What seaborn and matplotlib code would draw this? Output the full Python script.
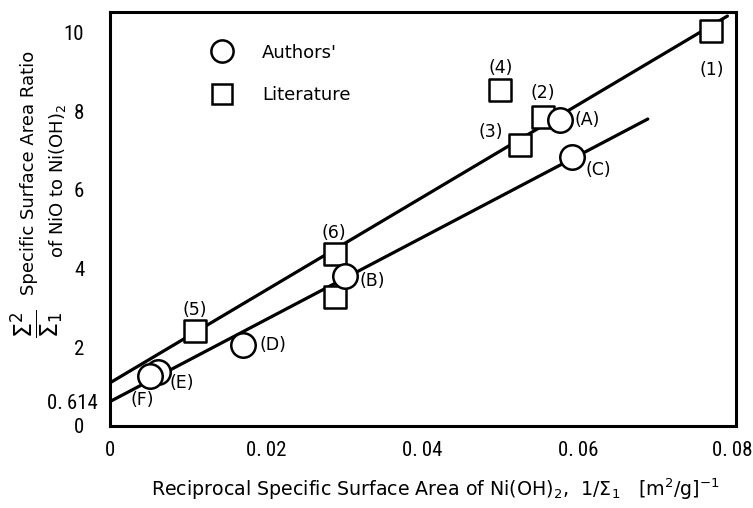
import matplotlib
matplotlib.use("Agg")
import matplotlib.pyplot as plt
from matplotlib import font_manager
from matplotlib.font_manager import FontProperties
from matplotlib.lines import Line2D
import matplotlib.transforms as mtransforms
import seaborn as sns
import pandas as pd

# ---------------- data ----------------
lit_x = [0.0770, 0.0555, 0.0525, 0.0500, 0.0109, 0.0288, 0.0288]
lit_y = [10.05, 7.85, 7.14, 8.54, 2.41, 4.37, 3.27]
lit_labels = ["(1)", "(2)", "(3)", "(4)", "(5)", "(6)", ""]

auth_x = [0.0576, 0.0301, 0.0592, 0.0170, 0.0062, 0.0051]
auth_y = [7.78, 3.81, 6.84, 2.04, 1.37, 1.26]
auth_labels = ["(A)", "(B)", "(C)", "(D)", "(E)", "(F)"]

upper_fit_x = [0.0, 0.0791]
upper_fit_y = [1.09, 10.42]
lower_fit_x = [0.0, 0.0689]
lower_fit_y = [0.614, 7.80]

x_ticks = [0.0, 0.02, 0.04, 0.06, 0.08]
x_ticklabels = ["0", "0.\u200902", "0.\u200904", "0.\u200906", "0.\u200908"]
y_ticks = [0, 0.614, 2, 4, 6, 8, 10]
y_ticklabels = ["0", "0.\u2009614", "2", "4", "6", "8", "10"]

# label offsets (pixels, y up)
lit_offsets = [(1, -39), (0, 24), (-29, 13), (0, 22), (0, 21), (-1, 21), (0, 0)]
auth_offsets = [(28, 0), (27, -5), (26, -13), (30, 0), (23, -11), (-8, -24)]

# ---------------- style ----------------
sns.set_theme(style="white")
plt.rcParams["font.family"] = ["DejaVu Sans"]
plt.rcParams["mathtext.fontset"] = "dejavusans"

# condensed font for the tick numbers, if one is installed
fonts = font_manager.fontManager.ttflist
names = {f.name for f in fonts}
cond_family, cond_stretch = None, "normal"
for cand in ["Liberation Sans Narrow", "Roboto Condensed", "Open Sans Condensed", "Noto Sans Condensed"]:
    if cand in names:
        cond_family = cand
        break
if cond_family is None:
    for f in fonts:
        if f.name in ("Roboto", "Noto Sans", "Open Sans", "DejaVu Sans") and str(f.stretch) in ("condensed", "semi-condensed"):
            cond_family, cond_stretch = f.name, "condensed"
            break
if cond_family is None:
    cond_family = "DejaVu Sans"
tick_fp = FontProperties(family=[cond_family, "DejaVu Sans"], stretch=cond_stretch, size=15)

fig = plt.figure(figsize=(7.53, 5.08), dpi=100)
ax = fig.add_axes([110 / 753, 1 - 425.7 / 508, 626 / 753, (425.7 - 11.7) / 508])

lw_line = 2.3
sns.lineplot(x=upper_fit_x, y=upper_fit_y, color="black", lw=lw_line, ax=ax, estimator=None, sort=False, zorder=2)
sns.lineplot(x=lower_fit_x, y=lower_fit_y, color="black", lw=lw_line, ax=ax, estimator=None, sort=False, zorder=2)

df_lit = pd.DataFrame({"x": lit_x, "y": lit_y})
df_auth = pd.DataFrame({"x": auth_x, "y": auth_y})
sns.scatterplot(data=df_lit, x="x", y="y", marker="s", s=250, facecolor="white",
                edgecolor="black", linewidth=1.8, ax=ax, zorder=3, legend=False)
sns.scatterplot(data=df_auth, x="x", y="y", marker="o", s=310, facecolor="white",
                edgecolor="black", linewidth=1.8, ax=ax, zorder=4, legend=False)

lab_fs = 12.5
for xv, yv, t, (dx, dy) in zip(lit_x, lit_y, lit_labels, lit_offsets):
    if t:
        ax.annotate(t, (xv, yv), xytext=(dx * 0.72, dy * 0.72), textcoords="offset points",
                    ha="center", va="center", fontsize=lab_fs, color="black")
for xv, yv, t, (dx, dy) in zip(auth_x, auth_y, auth_labels, auth_offsets):
    ax.annotate(t, (xv, yv), xytext=(dx * 0.72, dy * 0.72), textcoords="offset points",
                ha="center", va="center", fontsize=lab_fs, color="black")

ax.set_xlim(0, 0.0802)
ax.set_ylim(0, 10.53)
ax.set_xticks(x_ticks)
ax.set_xticklabels(x_ticklabels)
ax.set_yticks(y_ticks)
ax.set_yticklabels(y_ticklabels)
for lab in ax.get_xticklabels() + ax.get_yticklabels():
    lab.set_fontproperties(tick_fp)
    lab.set_color("black")
ax.tick_params(axis="both", direction="in", length=8, width=1.8, color="black")
ax.tick_params(axis="x", pad=11)
ax.tick_params(axis="y", pad=18.5)
for tk, v in zip(ax.yaxis.get_major_ticks(), y_ticks):
    if v == 0.614:
        tk._apply_params(tickdir="inout", length=16, pad=5)
    if v == 0:
        tk.tick1line.set_visible(False)
for tk, v in zip(ax.xaxis.get_major_ticks(), x_ticks):
    if v in (0.0, 0.08):
        tk.tick1line.set_visible(False)

for sp in ax.spines.values():
    sp.set_linewidth(2.2)
    sp.set_color("black")
    sp.set_visible(True)

# legend
handles = [
    Line2D([], [], marker="o", ls="none", markersize=16, markerfacecolor="white",
           markeredgecolor="black", markeredgewidth=1.8, label="Authors'"),
    Line2D([], [], marker="s", ls="none", markersize=14, markerfacecolor="white",
           markeredgecolor="black", markeredgewidth=1.8, label="Literature"),
]
leg = ax.legend(handles=handles, loc="upper left", bbox_to_anchor=(0.139, 0.94), frameon=False,
                fontsize=13, handletextpad=1.2, labelspacing=1.35, borderaxespad=0)
for t in leg.get_texts():
    t.set_color("black")

ax.set_xlabel("")
ax.set_ylabel("")

# axis titles
fig.text(435 / 753, 1 - 489 / 508,
         r"Reciprocal Specific Surface Area of Ni(OH)$_2$,  $1/\Sigma_1$   [m$^2$/g]$^{-1}$",
         ha="center", va="center", fontsize=13.7, color="black")
fig.text(29 / 753, 1 - 173 / 508, "Specific Surface Area Ratio", rotation=90,
         ha="center", va="center", fontsize=13, color="black")
fig.text(57 / 753, 1 - 181 / 508, r"of NiO to Ni(OH)$_2$", rotation=90,
         ha="center", va="center", fontsize=13, color="black")
fig.text(37 / 753, 1 - 324 / 508, r"$\dfrac{\Sigma^2}{\Sigma_1}$", rotation=90,
         ha="center", va="center", fontsize=17, color="black")

# keep the last x tick label inside the canvas by nudging it left
fig.canvas.draw()
renderer = fig.canvas.get_renderer()
fig_w = fig.bbox.width
for tk in ax.xaxis.get_major_ticks():
    lab = tk.label1
    bb = lab.get_window_extent(renderer)
    if bb.x1 > fig_w - 1:
        shift = (bb.x1 - (fig_w - 1)) / fig.dpi
        lab.set_transform(lab.get_transform() + mtransforms.ScaledTranslation(-shift, 0, fig.dpi_scale_trans))

fig.savefig("out.png", dpi=100, facecolor="white")
